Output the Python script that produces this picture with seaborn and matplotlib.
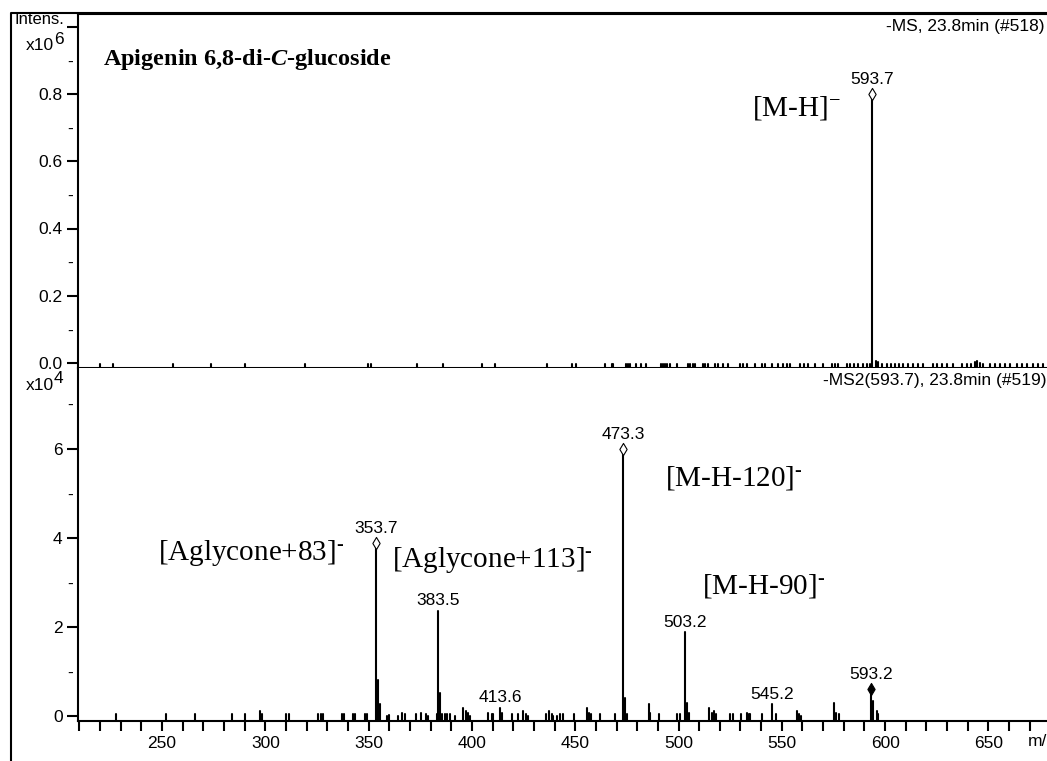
import numpy as np
import pandas as pd
import matplotlib
matplotlib.use("Agg")
import matplotlib.pyplot as plt
import seaborn as sns
from matplotlib.lines import Line2D
from matplotlib.ticker import FixedLocator, FixedFormatter, NullFormatter, NullLocator

# ---------------- data ----------------
# MS1 spectrum (intensity x10^6)
ms1_mz = [219.8, 226.3, 255.3, 273.7, 290.2, 319.2, 349.7, 351.2, 373.3, 385.9,
          404.7, 411.2, 436.2, 448.3, 450.4, 464.4, 467.7, 468.4, 474.5, 475.5,
          476.5, 479.6, 482.0, 484.4, 491.7, 492.5, 493.4, 494.2, 495.9, 499.1,
          504.6, 505.8, 507.0, 508.0, 511.9, 512.8, 514.4, 517.7, 519.3, 521.7,
          524.1, 529.8, 531.4, 533.0, 537.0, 540.2, 541.9, 545.1, 548.3, 550.7,
          552.4, 554.0, 558.8, 560.7, 562.8, 566.1, 570.1, 574.1, 575.7, 577.4,
          581.4, 583.0, 585.0, 587.0, 589.1, 591.1, 592.7, 593.7, 595.4, 596.4,
          598.3, 600.8, 602.7, 604.8, 606.9, 608.8, 611.2, 613.7, 616.1, 618.5,
          623.3, 625.3, 627.4, 629.8, 633.0, 637.1, 639.5, 641.4, 643.5, 644.6,
          645.9, 647.5, 650.8, 653.2, 655.6, 658.0, 660.5, 663.7, 666.1, 668.5,
          671.7, 674.2, 676.6]
ms1_int = [-0.004, -0.004, -0.004, -0.004, -0.004, -0.003, -0.004, -0.004, -0.004, -0.004,
           -0.004, -0.004, -0.004, -0.004, -0.004, -0.004, -0.004, -0.004, -0.004, -0.003,
           -0.004, -0.004, -0.004, -0.004, -0.003, -0.003, -0.003, -0.003, -0.004, -0.004,
           -0.003, -0.003, -0.004, -0.004, -0.004, -0.003, -0.003, -0.004, -0.003, -0.004,
           -0.004, -0.003, -0.003, -0.003, -0.004, -0.003, -0.003, -0.004, -0.003, -0.003,
           -0.003, -0.004, -0.003, -0.003, -0.003, -0.004, -0.004, -0.003, -0.003, -0.003,
           -0.004, -0.003, -0.003, -0.003, -0.003, -0.003, -0.003, 0.80, 0.006, 0.002,
           -0.002, -0.003, -0.003, -0.002, -0.003, -0.003, -0.003, -0.002, -0.003, -0.003,
           -0.003, -0.003, -0.002, -0.003, -0.003, -0.003, -0.002, -0.002, 0.002, 0.006,
           0.001, -0.002, -0.002, -0.003, -0.002, -0.003, -0.002, -0.003, -0.002, -0.003,
           -0.002, -0.003, -0.002]
ms1_labels = [593.7]

# MS2 spectrum of 593.7 (intensity x10^4)
ms2_mz = [227.6, 251.9, 266.0, 284.0, 290.2, 297.4, 298.2, 310.0, 311.6, 325.7,
          326.8, 327.8, 337.0, 338.1, 342.6, 343.6, 348.3, 349.1, 353.7, 354.7,
          355.6, 359.1, 360.0, 364.1, 366.3, 367.6, 372.9, 375.2, 377.6, 378.6,
          382.9, 383.5, 384.4, 385.4, 387.1, 388.1, 389.4, 391.8, 395.9, 397.1,
          398.3, 399.1, 407.9, 409.6, 410.4, 413.6, 414.4, 419.4, 422.5, 424.9,
          426.2, 427.3, 435.9, 437.5, 438.6, 439.4, 441.4, 442.6, 443.9, 449.4,
          455.5, 456.8, 457.8, 462.0, 469.3, 473.3, 474.1, 475.2, 485.6, 486.3,
          490.6, 499.4, 500.7, 503.2, 504.2, 505.2, 514.9, 516.1, 517.2, 518.2,
          524.9, 526.2, 530.3, 533.0, 534.0, 534.6, 540.4, 545.2, 547.2, 557.2,
          558.2, 559.1, 575.4, 576.2, 577.8, 593.2, 594.3, 595.9, 596.7]
ms2_int = [0.04, 0.04, 0.04, 0.04, 0.04, 0.11, 0.04, 0.04, 0.04, 0.04,
           0.04, 0.04, 0.04, 0.04, 0.04, 0.04, 0.04, 0.04, 3.88, 0.81,
           0.26, 0.0, 0.02, 0.0, 0.07, 0.04, 0.04, 0.07, 0.04, 0.0,
           0.04, 2.36, 0.52, 0.04, 0.04, 0.04, 0.04, 0.0, 0.18, 0.11,
           0.07, 0.0, 0.07, 0.04, 0.04, 0.18, 0.07, 0.04, 0.04, 0.11,
           0.04, 0.0, 0.04, 0.11, 0.04, 0.0, 0.0, 0.04, 0.04, 0.04,
           0.18, 0.07, 0.04, 0.04, 0.04, 6.0, 0.41, 0.04, 0.26, 0.07,
           0.04, 0.04, 0.04, 1.88, 0.30, 0.07, 0.18, 0.07, 0.11, 0.04,
           0.04, 0.04, 0.04, 0.07, 0.04, 0.04, 0.04, 0.26, 0.04, 0.11,
           0.04, 0.0, 0.30, 0.07, 0.04, 0.60, 0.33, 0.11, 0.04]
ms2_labels = [353.7, 383.5, 413.6, 473.3, 503.2, 545.2, 593.2]
ms2_open_diamonds = [353.7, 473.3]
ms2_filled_diamonds = [593.2]

ms1_yticks = [0.0, 0.2, 0.4, 0.6, 0.8, 1.0]
ms1_yticklabels = ["0.0", "0.2", "0.4", "0.6", "0.8", ""]
ms1_yminor = [0.1, 0.3, 0.5, 0.7, 0.9]
ms2_yticks = [0, 2, 4, 6]
ms2_yticklabels = ["0", "2", "4", "6"]
ms2_yminor = [1, 3, 5, 7]
x_major = [250, 300, 350, 400, 450, 500, 550, 600, 650]
x_minor = list(range(210, 681, 10))

assert len(ms1_mz) == len(ms1_int)
assert len(ms2_mz) == len(ms2_int)

title_text = "Apigenin 6,8-di-$\\mathbfit{C}$-glucoside"
ms1_header = "-MS, 23.8min (#518)"
ms2_header = "-MS2(593.7), 23.8min (#519)"

# ---------------- style ----------------
W, H = 1047, 761
FS = 12.5
sns.set_theme(style="white")
plt.rcParams['font.family'] = ['Liberation Sans', 'DejaVu Sans']
plt.rcParams['mathtext.fontset'] = 'custom'
plt.rcParams['mathtext.rm'] = 'Liberation Serif'
plt.rcParams['mathtext.it'] = 'Liberation Serif:italic'
plt.rcParams['mathtext.bf'] = 'Liberation Serif:bold'
plt.rcParams['mathtext.bfit'] = 'Liberation Serif:italic:bold'
for k in ['text.color', 'axes.labelcolor', 'xtick.color', 'ytick.color', 'axes.edgecolor']:
    plt.rcParams[k] = 'black'

fig = plt.figure(figsize=(W / 100, H / 100), dpi=100)
fig.patch.set_facecolor('white')

def px2fig(x, y):
    return x / W, 1 - y / H

XL = 78
xlim = (250 + (XL - 162) / 2.066, 250 + (W - 162) / 2.066)

ax1 = fig.add_axes([XL / W, 1 - 368 / H, (W - XL) / W, (368 - 14) / H])
ax2 = fig.add_axes([XL / W, 1 - 721 / H, (W - XL) / W, (721 - 368) / H])

ax1_ylim = (-5 / 336.25, 349 / 336.25)
ax2_ylim = (-5 / 45.17, 353 / 45.17)


def stems(ax, mz, inten, base):
    rows = []
    for i, (m, h) in enumerate(zip(mz, inten)):
        rows.append({"mz": m, "intensity": base, "peak": i})
        rows.append({"mz": m, "intensity": h, "peak": i})
    df = pd.DataFrame(rows)
    sns.lineplot(data=df, x="mz", y="intensity", units="peak", estimator=None,
                 sort=False, color="black", linewidth=1.5, ax=ax, legend=False)


stems(ax1, ms1_mz, ms1_int, ax1_ylim[0])
stems(ax2, ms2_mz, ms2_int, ax2_ylim[0])

ms1_lookup = dict(zip(ms1_mz, ms1_int))
ms2_lookup = dict(zip(ms2_mz, ms2_int))

# diamonds
sns.scatterplot(x=ms1_labels, y=[ms1_lookup[m] for m in ms1_labels], marker="d",
                s=38, facecolor="white", edgecolor="black", linewidth=0.8, ax=ax1, zorder=5)
sns.scatterplot(x=ms2_open_diamonds, y=[ms2_lookup[m] for m in ms2_open_diamonds], marker="d",
                s=38, facecolor="white", edgecolor="black", linewidth=0.8, ax=ax2, zorder=5)
sns.scatterplot(x=ms2_filled_diamonds, y=[ms2_lookup[m] for m in ms2_filled_diamonds], marker="d",
                s=38, facecolor="black", edgecolor="black", linewidth=0.8, ax=ax2, zorder=5)

# peak labels
for m in ms1_labels:
    ax1.annotate(f"{m:.1f}", xy=(m, ms1_lookup[m]), xytext=(0, 5), textcoords="offset points",
                 ha="center", va="bottom", fontsize=FS)
for m in ms2_labels:
    off = 5 if (m in ms2_open_diamonds or m in ms2_filled_diamonds) else 2
    ax2.annotate(f"{m:.1f}", xy=(m, ms2_lookup[m]), xytext=(0, off), textcoords="offset points",
                 ha="center", va="bottom", fontsize=FS)

for ax, ylim in ((ax1, ax1_ylim), (ax2, ax2_ylim)):
    ax.set_xlim(*xlim)
    ax.set_ylim(*ylim)
    ax.set_xlabel("")
    ax.set_ylabel("")
    ax.set_facecolor("white")
    ax.spines["right"].set_visible(False)
    ax.spines["left"].set_linewidth(1.5)
    ax.tick_params(axis="y", which="major", direction="out", length=8, width=1.5,
                   pad=3, labelsize=FS, left=True)
    ax.tick_params(axis="y", which="minor", length=0, pad=3.5, labelsize=FS, left=True)

ax1.spines["top"].set_linewidth(1.5)
ax1.spines["bottom"].set_linewidth(2.2)
ax2.spines["top"].set_visible(False)
ax2.spines["bottom"].set_linewidth(1.5)

ax1.yaxis.set_major_locator(FixedLocator(ms1_yticks))
ax1.yaxis.set_major_formatter(FixedFormatter(ms1_yticklabels))
ax1.yaxis.set_minor_locator(FixedLocator(ms1_yminor))
ax1.yaxis.set_minor_formatter(FixedFormatter(["-"] * len(ms1_yminor)))
ax1.xaxis.set_major_locator(NullLocator())
ax1.xaxis.set_minor_locator(NullLocator())

ax2.yaxis.set_major_locator(FixedLocator(ms2_yticks))
ax2.yaxis.set_major_formatter(FixedFormatter(ms2_yticklabels))
ax2.yaxis.set_minor_locator(FixedLocator(ms2_yminor))
ax2.yaxis.set_minor_formatter(FixedFormatter(["-"] * len(ms2_yminor)))
ax2.xaxis.set_major_locator(FixedLocator(x_major))
ax2.xaxis.set_minor_locator(FixedLocator(x_minor))
ax2.xaxis.set_minor_formatter(NullFormatter())
ax2.tick_params(axis="x", which="both", direction="out", length=7, width=1.5,
                pad=4, labelsize=FS, bottom=True)

# outer frame lines
fig.add_artist(Line2D([11 / W, 11 / W, 1], [0, 1 - 13 / H, 1 - 13 / H],
                      transform=fig.transFigure, color="black", lw=1.5))

# figure texts
def ftext(x, y, s, **kw):
    fx, fy = px2fig(x, y)
    fig.text(fx, fy, s, **kw)

ftext(14, 20, "Intens.", ha="left", va="center", fontsize=12)
ftext(54, 45, "x10", ha="right", va="center", fontsize=FS)
ftext(54, 39, "6", ha="left", va="center", fontsize=FS)
ftext(54, 385, "x10", ha="right", va="center", fontsize=FS)
ftext(54, 379, "4", ha="left", va="center", fontsize=FS)
ftext(886, 27, ms1_header, ha="left", va="center", fontsize=FS)
ftext(823, 381, ms2_header, ha="left", va="center", fontsize=FS)
ftext(1028, 742, "m/z", ha="left", va="center", fontsize=FS)

serif = ["Liberation Serif", "DejaVu Serif"]
ftext(103, 60, title_text, ha="left", va="center", fontsize=17.5, fontweight="bold", family=serif)
ftext(752, 108, "[M-H]$^{-}$", ha="left", va="center", fontsize=21, family=serif)
ftext(665, 478, "[M-H-120]$^{\\text{-}}$", ha="left", va="center", fontsize=21, family=serif)
ftext(702, 586, "[M-H-90]$^{\\text{-}}$", ha="left", va="center", fontsize=21, family=serif)
ftext(158, 553, "[Aglycone+83]$^{\\text{-}}$", ha="left", va="center", fontsize=21, family=serif)
ftext(392, 560, "[Aglycone+113]$^{\\text{-}}$", ha="left", va="center", fontsize=21, family=serif)

fig.savefig("out.png", dpi=100, facecolor="white")
